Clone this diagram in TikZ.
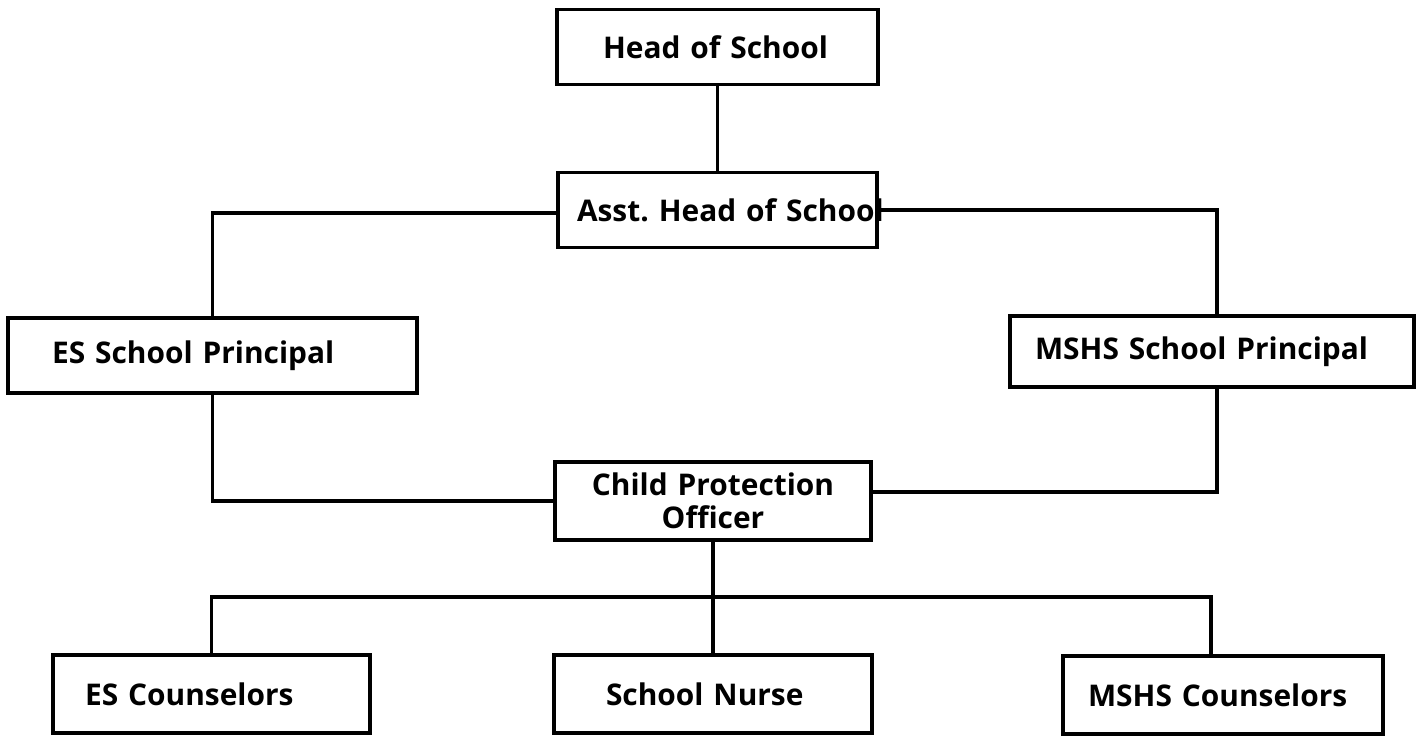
\documentclass[tikz,border=0pt]{standalone}
\usepackage{fontspec}
\setmainfont{Open Sans}
\usepackage{tikz}
\usetikzlibrary{positioning, calc}
\tikzset{
  orgbox/.style 2 args={rectangle, draw=black, line width=2pt, font=\fontsize{17}{19}\selectfont\bfseries, minimum height=1.5cm, inner ysep=0pt, text width=#1, inner xsep=#2, align=left},
  orgline/.style={draw, line width=2pt, line cap=rect},
}

\begin{document}
\begin{tikzpicture}[x=0.02cm, y=-0.02cm]
\useasboundingbox (0,0) rectangle (1424,735);
% top of the chart
\node[orgbox={4.58cm}{0.92cm}] (head) at (717.5,47) {Head of School};
\node[orgbox={5.62cm}{0.38cm}] (asst) at (717.5,210) {\mbox{Asst.\ Head of School}};
% principals
\node[orgbox={6.42cm}{0.88cm}] (esp) at (212.5,355.5) {ES School Principal};
\node[orgbox={7.08cm}{0.5cm}, minimum height=1.42cm] (msp) at (1212,351.5) {MSHS School Principal};
% child protection
\node[orgbox={6.0cm}{0.16cm}, align=center, minimum height=1.56cm] (cpo) at (713,501) {Child Protection\\Officer};
% staff
\node[orgbox={5.06cm}{0.64cm}, minimum height=1.56cm] (esc) at (211.5,694) {ES Counselors};
\node[orgbox={4.28cm}{1.04cm}, minimum height=1.56cm] (nurse) at (713,694) {School Nurse};
\node[orgbox={5.4cm}{0.5cm}, minimum height=1.56cm] (msc) at (1223,695) {MSHS Counselors};
\coordinate (bus) at (713,597);

\draw[orgline] (head) -- (asst);
\draw[orgline] ([yshift=-0.06cm]asst.west) -| (esp.north);
\draw[orgline] (asst.east) -| ([xshift=0.1cm]msp.north);
\draw[orgline] (esp.south) |- (cpo.west);
\draw[orgline] ([xshift=0.1cm]msp.south) |- ([yshift=0.18cm]cpo.east);
\draw[orgline] (cpo.south) -- (nurse.north);
\draw[orgline] (esc.north) |- (bus) -| ([xshift=-0.24cm]msc.north);
\end{tikzpicture}
\end{document}
